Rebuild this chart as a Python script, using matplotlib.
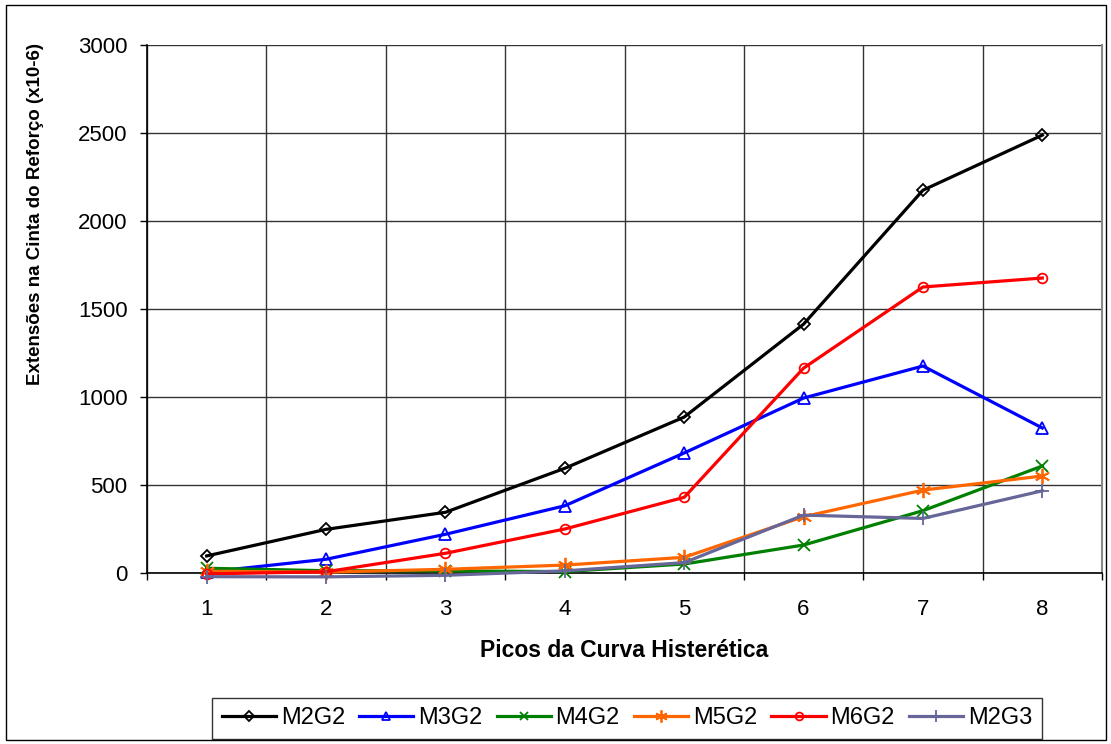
import matplotlib
matplotlib.use('Agg')
import matplotlib.pyplot as plt
from matplotlib.patches import Rectangle

picos = [1, 2, 3, 4, 5, 6, 7, 8]

m2g2 = [97, 248, 345, 595, 886, 1414, 2175, 2488]
m3g2 = [5, 78, 220, 382, 682, 994, 1176, 824]
m4g2 = [27, 13, 12, 8, 51, 159, 354, 608]
m5g2 = [10, 5, 21, 45, 89, 320, 471, 551]
m6g2 = [-5, 7, 112, 250, 430, 1164, 1625, 1676]
m2g3 = [-21, -22, -13, 12, 59, 329, 310, 467]

series = [
    ("M2G2", m2g2, "black", "D", 6, "none"),
    ("M3G2", m3g2, "#0000FF", "^", 8, "none"),
    ("M4G2", m4g2, "#008000", "x", 8, None),
    ("M5G2", m5g2, "#FF6600", (6, 2, 0), 11, None),
    ("M6G2", m6g2, "#FF0000", "o", 7, "none"),
    ("M2G3", m2g3, "#666699", "+", 10, None),
]

plt.rcParams['font.family'] = ['Liberation Sans', 'DejaVu Sans']

fig = plt.figure(figsize=(11.11, 7.44), dpi=100)
ax = fig.add_axes([147 / 1111, 1 - 573 / 744, 955 / 1111, 528 / 744])

for name, vals, col, mk, ms, mfc in series:
    kw = dict(color=col, lw=2.3, marker=mk, markersize=ms, markeredgewidth=1.3,
              label=name, clip_on=False, zorder=3)
    if mfc is not None:
        kw['markerfacecolor'] = mfc
    ax.plot(picos, vals, **kw)

ax.set_xlim(0.5, 8.5)
ax.set_ylim(0, 3000)
ax.set_yticks(range(0, 3001, 500))
ax.set_xticks(picos)
ax.set_xticks([x + 0.5 for x in range(0, 9)], minor=True)
ax.tick_params(axis='x', which='major', length=0, pad=18.5, labelsize=16)
ax.tick_params(axis='x', which='minor', length=5, width=1, color='black')
ax.tick_params(axis='y', length=5, width=1, labelsize=16, pad=9)

ax.grid(True, axis='y', color='#333333', lw=1, zorder=0)
ax.grid(True, axis='x', which='minor', color='#333333', lw=1, zorder=0)
ax.set_axisbelow(True)

ax.spines['top'].set_visible(False)
ax.spines['right'].set_color('#888888')
ax.spines['right'].set_linewidth(1.5)
ax.spines['left'].set_linewidth(1.2)
ax.spines['bottom'].set_linewidth(1.2)

ax.set_ylabel("Extensões na Cinta do Reforço (x10-6)", fontsize=13.5,
              fontweight='bold')
ax.yaxis.set_label_coords(-0.108, 0.68)
ax.set_xlabel("Picos da Curva Histerética", fontsize=16.5, fontweight='bold')
ax.xaxis.set_label_coords(0.5, -0.125)

leg = ax.legend(loc='center', bbox_to_anchor=(627 / 1111, 1 - 718.5 / 744),
                bbox_transform=fig.transFigure, ncol=6, fontsize=17,
                frameon=True, fancybox=False, edgecolor='black',
                handlelength=2.3, handletextpad=0.2, columnspacing=0.6,
                borderpad=0.4, markerscale=0.8)
leg.get_frame().set_linewidth(1)

fig.patches.append(Rectangle((6 / 1111, 4 / 744), 1100 / 1111, 735 / 744,
                             transform=fig.transFigure, fill=False,
                             edgecolor='black', lw=1))

fig.savefig('out.png', dpi=100)
